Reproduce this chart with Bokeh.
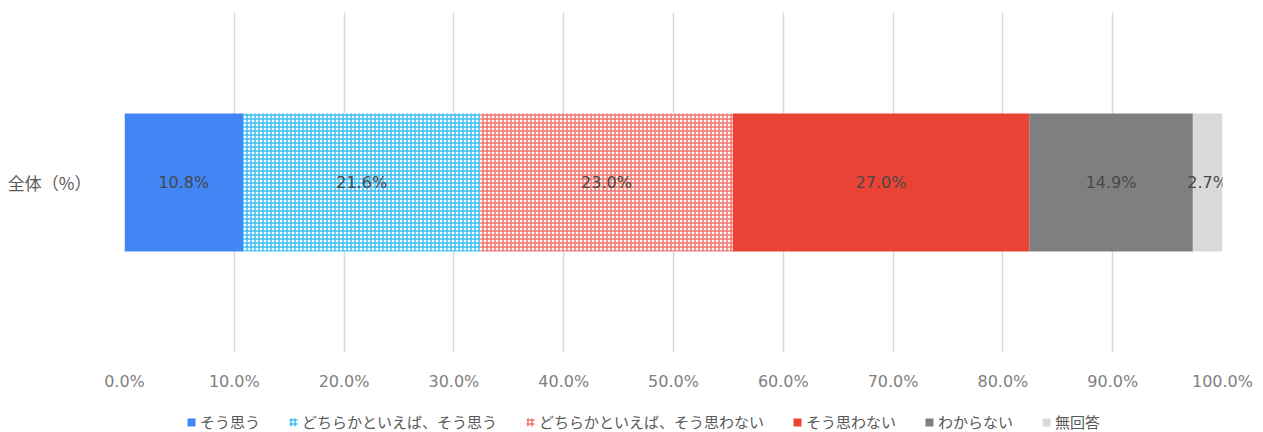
from bokeh.plotting import figure
from bokeh.models import (ColumnDataSource, FixedTicker, PrintfTickFormatter,
                          Legend, LegendItem, FactorRange)
from bokeh.layouts import column
from bokeh.embed import file_html
from bokeh.resources import INLINE
from bokeh.core.properties import value
import numpy as np

category = ["全体（%）"]
series = ["そう思う", "どちらかといえば、そう思う", "どちらかといえば、そう思わない",
          "そう思わない", "わからない", "無回答"]
values = [10.8, 21.6, 23.0, 27.0, 14.9, 2.7]
ticks = [0, 10, 20, 30, 40, 50, 60, 70, 80, 90, 100]

styles = [
    dict(fill_color="#4285F4"),
    dict(fill_color="white", hatch_pattern="cross", hatch_color="#3DBDF2", hatch_scale=4, hatch_weight=1.5),
    dict(fill_color="white", hatch_pattern="cross", hatch_color="#F2736C", hatch_scale=4, hatch_weight=1.5),
    dict(fill_color="#EA4335"),
    dict(fill_color="#7F7F7F"),
    dict(fill_color="#D9D9D9"),
]

NUM = "DejaVu Sans"
CJK = "Noto Sans CJK JP"

p = figure(width=1263, height=400, output_backend="svg", toolbar_location=None,
           x_range=(0, 100), y_range=FactorRange(*category),
           min_border_left=124, min_border_right=41, min_border_top=12, min_border_bottom=48)
p.outline_line_color = None
p.ygrid.grid_line_color = None
p.xgrid.grid_line_color = "#D9D9D9"
p.xgrid.grid_line_width = 1.5
p.xgrid.ticker = FixedTicker(ticks=ticks)

right = np.cumsum(values)
left = right - np.array(values)
for i, name in enumerate(series):
    src = ColumnDataSource(dict(y=category, left=[left[i]], right=[right[i]],
                                mid=[(left[i] + right[i]) / 2], lab=["%.1f%%" % values[i]]))
    p.hbar(y="y", left="left", right="right", height=0.406, source=src,
           line_color=None, **styles[i])
    p.text(x="mid", y="y", text="lab", source=src, text_align="center", text_baseline="middle",
           text_font=value(NUM), text_font_size="16px", text_color="#484848")

p.xaxis.ticker = FixedTicker(ticks=ticks)
p.xaxis.formatter = PrintfTickFormatter(format="%.1f%%")
p.xaxis.axis_line_color = None
p.xaxis.major_tick_line_color = None
p.xaxis.minor_tick_line_color = None
p.xaxis.major_label_text_font = NUM
p.xaxis.major_label_text_font_size = "16px"
p.xaxis.major_label_text_color = "#7F7F7F"
p.xaxis.major_label_standoff = 13

p.yaxis.axis_line_color = None
p.yaxis.major_tick_line_color = None
p.yaxis.minor_tick_line_color = None
p.yaxis.major_label_text_font = CJK
p.yaxis.major_label_text_font_size = "17px"
p.yaxis.major_label_text_color = "#595959"
p.yaxis.major_label_standoff = 27

# legend strip below the chart (its frame is aligned with the main frame)
lg = figure(width=1263, height=32, output_backend="svg", toolbar_location=None,
            x_range=(0, 1), y_range=(0, 1), x_axis_type=None, y_axis_type=None,
            min_border_left=124, min_border_right=41, min_border_top=0, min_border_bottom=0)
lg.outline_line_color = None
lg.xgrid.visible = False
lg.ygrid.visible = False
items = []
for i, name in enumerate(series):
    dummy = ColumnDataSource(dict(y=[-10], left=[-10], right=[-9]))
    r = lg.hbar(y="y", left="left", right="right", height=0.5, source=dummy,
                line_color=None, **styles[i])
    items.append(LegendItem(label=name, renderers=[r]))
legend = Legend(items=items, orientation="horizontal", location=(62, 0),
                glyph_width=10, glyph_height=10, label_standoff=4, spacing=28,
                padding=0, margin=0, border_line_color=None, background_fill_alpha=0,
                label_text_font=CJK, label_text_font_size="15px", label_text_color="#595959")
lg.add_layout(legend)

layout = column(p, lg, spacing=0)
open("out.html", "w").write(file_html(layout, INLINE))
